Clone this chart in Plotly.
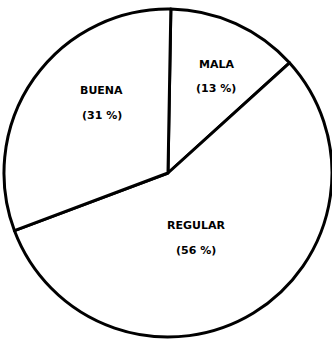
import plotly.graph_objects as go

# Categories and their shares (percent)
categories = ["MALA", "REGULAR", "BUENA"]
shares = [13, 56, 31]

# Label centre points inside each slice (paper coordinates)
label_x = [0.651, 0.590, 0.307]
label_y = [0.815, 0.347, 0.737]

fig = go.Figure(
    go.Pie(
        labels=categories,
        values=shares,
        sort=False,
        direction="clockwise",
        rotation=1,
        textinfo="none",
        hoverinfo="label+percent",
        marker=dict(colors=["white"] * len(categories),
                    line=dict(color="black", width=3)),
        domain=dict(x=[0.012, 1.0], y=[0.0, 1.0]),
        showlegend=False,
    )
)

font = dict(family="DejaVu Sans", size=11, color="black", weight="bold")
for name, val, x, y in zip(categories, shares, label_x, label_y):
    fig.add_annotation(x=x, y=y, xref="paper", yref="paper",
                       xanchor="center", yanchor="middle",
                       text=name, showarrow=False, font=font)
    fig.add_annotation(x=x, y=y - 0.070, xref="paper", yref="paper",
                       xanchor="center", yanchor="middle",
                       text=f"({val} %)", showarrow=False, font=font)

fig.update_layout(
    width=332, height=346,
    margin=dict(l=0, r=0, t=0, b=0),
    paper_bgcolor="white", plot_bgcolor="white",
)

fig.write_html("out.html")
